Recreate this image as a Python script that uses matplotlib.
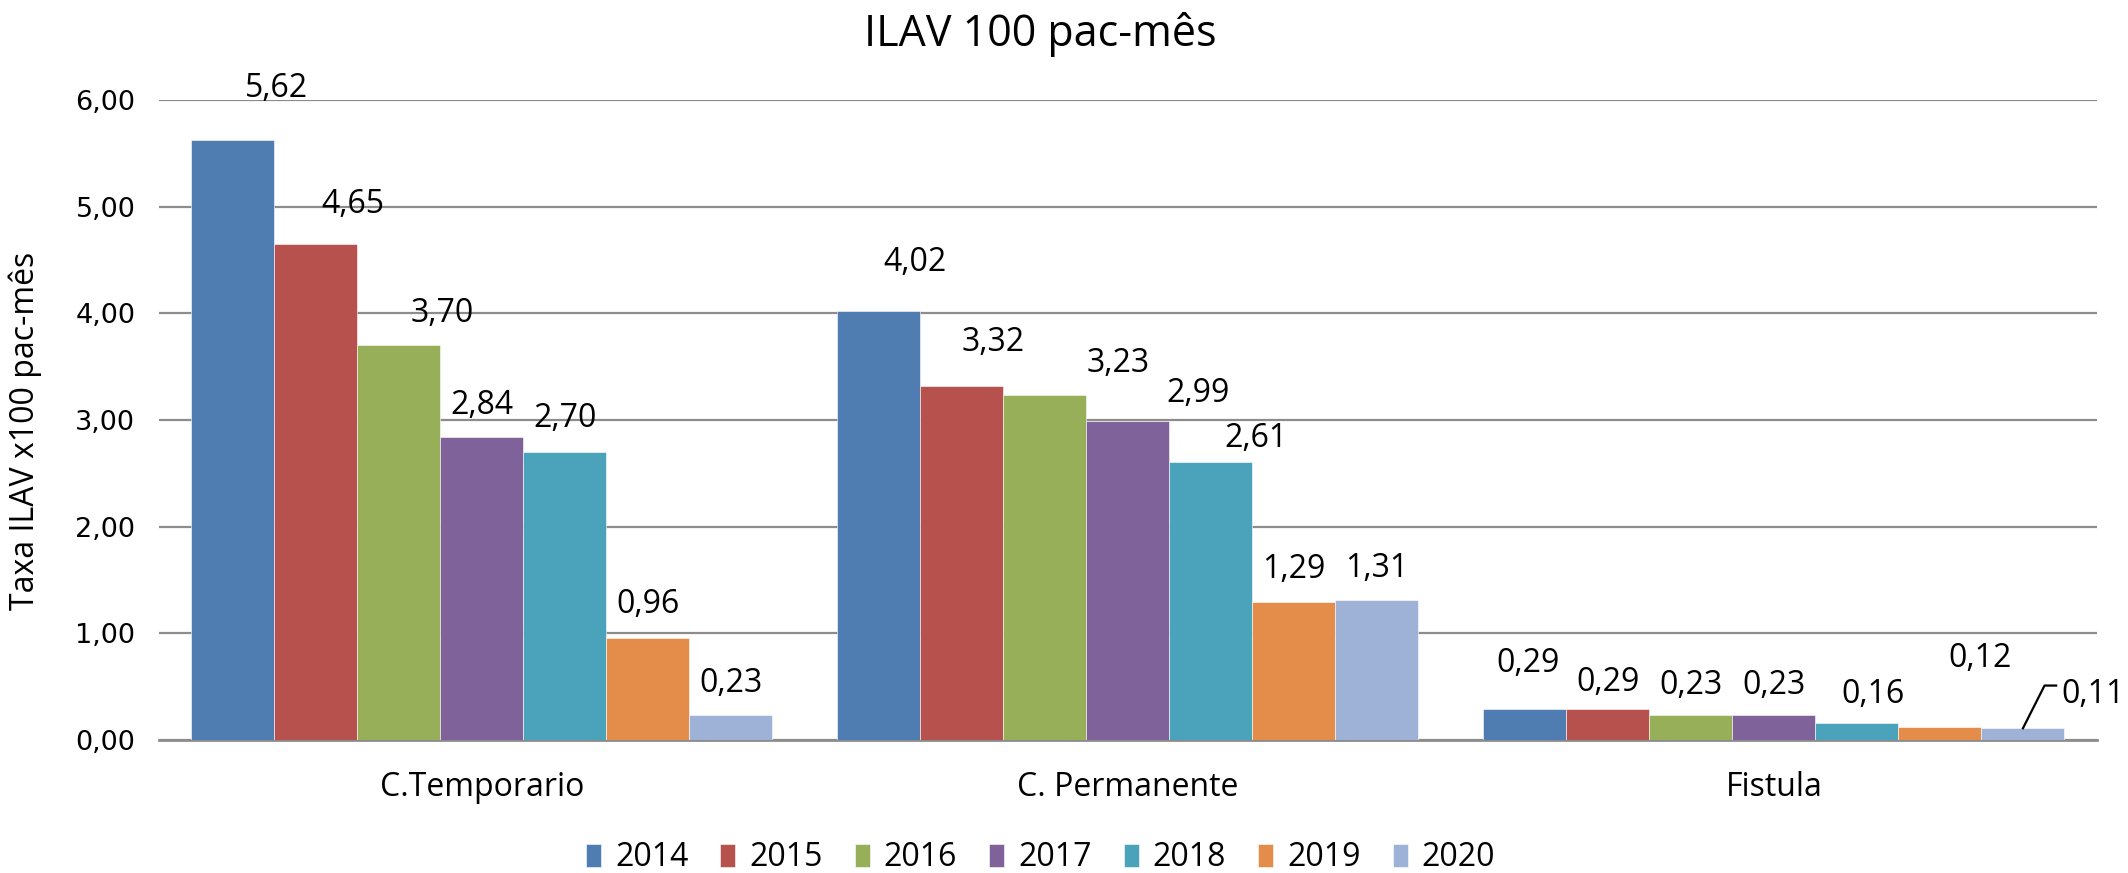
import numpy as np
import matplotlib
matplotlib.use("Agg")
import matplotlib.pyplot as plt

# data
categories = ["C.Temporario", "C. Permanente", "Fistula"]
years = ["2014", "2015", "2016", "2017", "2018", "2019", "2020"]
v2014 = [5.62, 4.02, 0.29]
v2015 = [4.65, 3.32, 0.29]
v2016 = [3.70, 3.23, 0.23]
v2017 = [2.84, 2.99, 0.23]
v2018 = [2.70, 2.61, 0.16]
v2019 = [0.96, 1.29, 0.12]
v2020 = [0.23, 1.31, 0.11]
series = [v2014, v2015, v2016, v2017, v2018, v2019, v2020]
y_ticks = [0, 1, 2, 3, 4, 5, 6]

colors = ["#4F7DB2", "#B7514D", "#96AF58", "#7F6299", "#4BA2BB", "#E48C49", "#9EB2D8"]

# hand-placed data labels (as in the Excel original): (dx in bar widths, dy above bar top)
label_dx = [[0.52, 0.43, 0.04], [0.44, 0.37, 0.0], [0.52, 0.88, 0.0], [0.0, 0.85, 0.0],
            [0.0, 0.54, 0.19], [0.0, 0.0, 0.48], [0.0, 0.0, 0.85]]
label_dy = [[0.49, 0.46, 0.43], [0.37, 0.41, 0.25], [0.30, 0.30, 0.28], [0.30, 0.26, 0.28],
            [0.31, 0.22, 0.27], [0.31, 0.31, 0.64], [0.30, 0.30, 0.32]]

FONT = "Open Sans"
LBL = 23

fig = plt.figure(figsize=(21.28, 8.73), dpi=100)
ax = fig.add_axes([0.0747, 0.1524, 0.9107, 0.7331])

n = len(series)
width = 0.1285
x = np.arange(len(categories))
for i, (vals, c) in enumerate(zip(series, colors)):
    xpos = x + (i - (n - 1) / 2) * width
    ax.bar(xpos, vals, width, color=c, label=years[i], zorder=3,
           edgecolor="white", linewidth=0.4)
    for j, v in enumerate(vals):
        tx = xpos[j] + label_dx[i][j] * width
        ty = v + label_dy[i][j]
        ax.text(tx, ty, f"{v:.2f}".replace(".", ","), ha="center", va="center",
                fontsize=LBL, family=FONT, color="black", zorder=4, clip_on=False)
        if i == n - 1 and j == 2:
            # leader line for the small last label
            ax.plot([xpos[j], xpos[j] + 0.26 * width, xpos[j] + 0.40 * width],
                    [v, v + 0.40, v + 0.40], color="black", lw=1.6, zorder=4)

ax.set_xlim(-0.5, 2.5)
ax.set_ylim(0, 6)
ax.set_yticks(y_ticks)
ax.set_yticklabels([f"{t:.2f}".replace(".", ",") for t in y_ticks],
                   family="DejaVu Sans", fontsize=19.5)
ax.set_xticks(x)
ax.set_xticklabels(categories, family=FONT, fontsize=LBL)
ax.tick_params(axis="y", length=0, pad=17)
ax.tick_params(axis="x", length=0, pad=22)
ax.grid(True, axis="y", color="#8c8c8c", lw=1.6, zorder=0)
for s in ["left", "right", "top"]:
    ax.spines[s].set_visible(False)
ax.spines["bottom"].set_color("#8c8c8c")
ax.spines["bottom"].set_linewidth(2)

fig.text(25 / 2128, 1 - 431 / 873, "Taxa ILAV x100 pac-mês", rotation=90,
         ha="center", va="center", family=FONT, fontsize=LBL)

fig.text(0.489, 0.961, "ILAV 100 pac-mês", ha="center", va="center",
         family=FONT, fontsize=31)

fig.legend(loc="center", bbox_to_anchor=(0.489, 0.0172), ncol=7, frameon=False,
           prop={"family": FONT, "size": LBL}, handlelength=0.47, handleheight=0.75,
           handletextpad=0.44, columnspacing=1.0, borderpad=0)

fig.savefig("out.png", dpi=100)
